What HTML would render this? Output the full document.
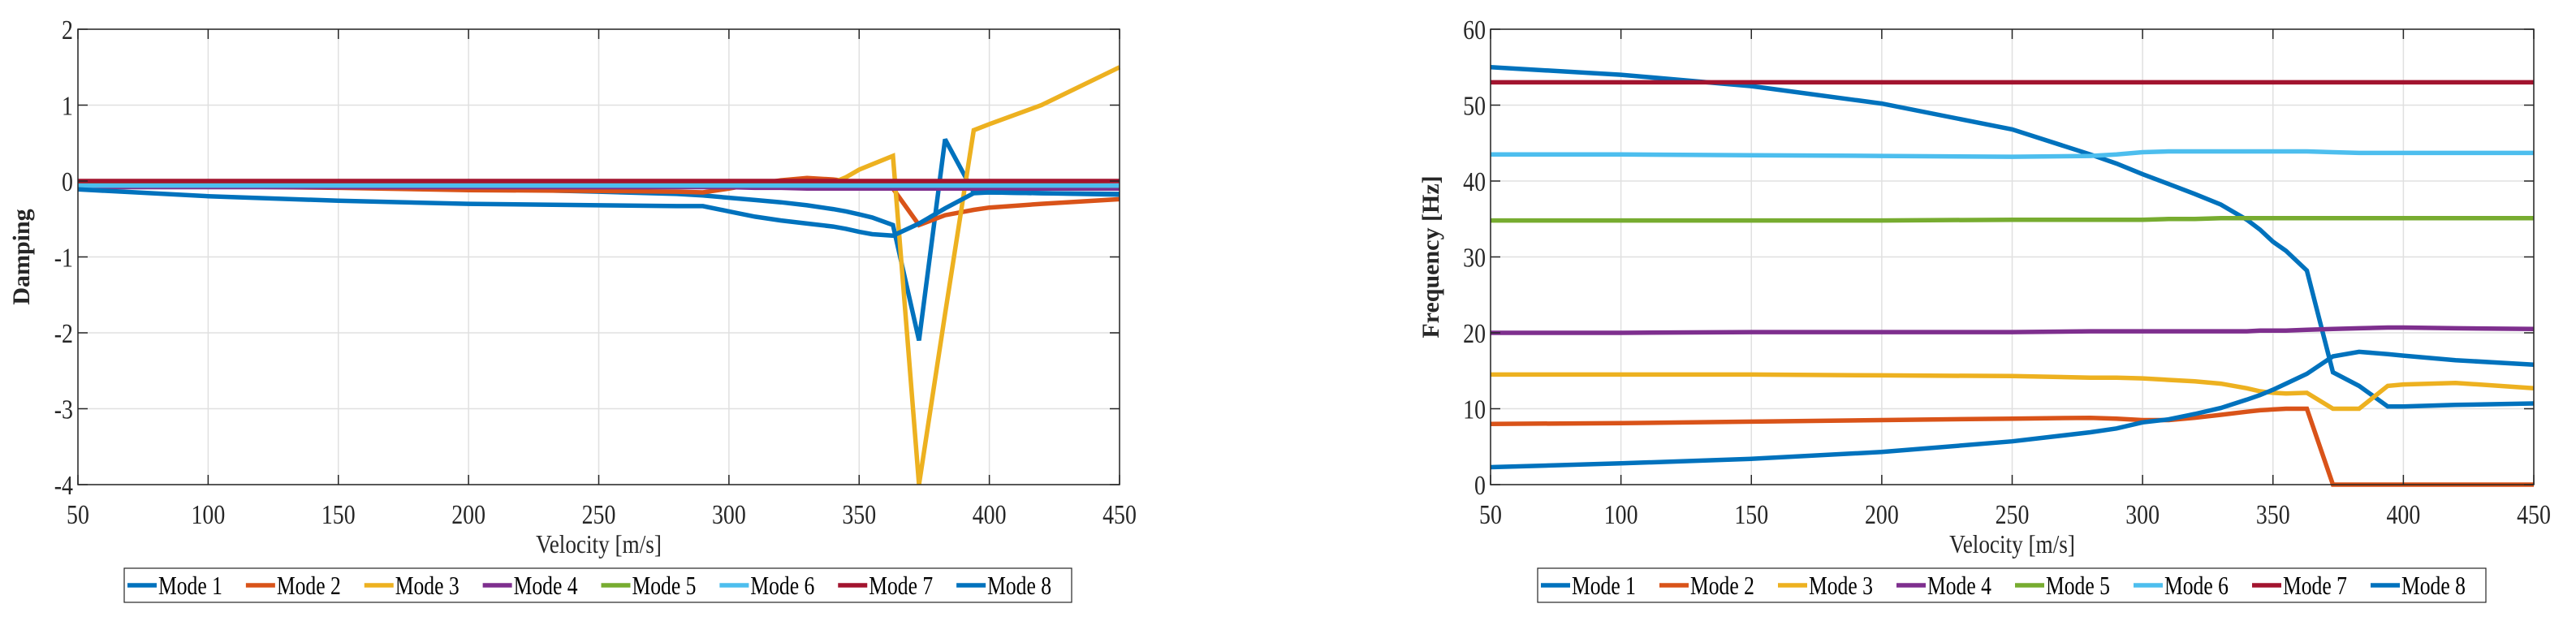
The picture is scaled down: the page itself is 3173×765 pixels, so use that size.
<!DOCTYPE html>
<html><head><meta charset="utf-8"><style>
html,body{margin:0;padding:0;background:#fff;}
svg{display:block;font-family:"Liberation Serif",serif;}
</style></head><body>
<svg id="fig" width="3173" height="765" viewBox="0 0 3173 765"></svg>
<script>
const velocity=[50,100,150,200,250,280,290,300,310,320,330,340,345,350,355,363,373,383,394,400,420,450];
const modeNames=["Mode 1","Mode 2","Mode 3","Mode 4","Mode 5","Mode 6","Mode 7","Mode 8"];
const xTicks=[50,100,150,200,250,300,350,400,450];
const dampTicks=[-4,-3,-2,-1,0,1,2];
const freqTicks=[0,10,20,30,40,50,60];
const d1=[-0.01,-0.04,-0.07,-0.1,-0.14,-0.17,-0.19,-0.22,-0.25,-0.28,-0.32,-0.37,-0.40,-0.44,-0.48,-0.58,-2.1,0.55,-0.15,-0.15,-0.16,-0.18];
const d2=[-0.04,-0.07,-0.09,-0.12,-0.13,-0.14,-0.15,-0.1,-0.04,0.01,0.04,0.02,0.0,-0.03,-0.06,-0.1,-0.58,-0.45,-0.38,-0.35,-0.3,-0.24];
const d3=[-0.05,-0.05,-0.05,-0.05,-0.05,-0.05,-0.05,-0.05,-0.05,-0.05,-0.05,-0.02,0.05,0.15,0.22,0.33,-4,-1.75,0.67,0.75,1.0,1.5];
const d4=[-0.08,-0.08,-0.08,-0.08,-0.08,-0.08,-0.08,-0.08,-0.09,-0.09,-0.1,-0.1,-0.1,-0.1,-0.1,-0.1,-0.1,-0.1,-0.1,-0.1,-0.1,-0.1];
const d5=[-0.05,-0.05,-0.05,-0.05,-0.05,-0.05,-0.05,-0.05,-0.05,-0.05,-0.05,-0.05,-0.05,-0.05,-0.05,-0.05,-0.05,-0.05,-0.05,-0.05,-0.05,-0.06];
const d6=[-0.06,-0.06,-0.06,-0.06,-0.06,-0.06,-0.06,-0.06,-0.06,-0.06,-0.06,-0.06,-0.06,-0.06,-0.06,-0.06,-0.06,-0.06,-0.06,-0.06,-0.06,-0.06];
const d7=[0,0,0,0,0,0,0,0,0,0,0,0,0,0,0,0,0,0,0,0,0,0];
const d8=[-0.11,-0.2,-0.26,-0.3,-0.32,-0.33,-0.33,-0.4,-0.47,-0.52,-0.56,-0.6,-0.63,-0.67,-0.7,-0.72,-0.56,-0.36,-0.16,-0.15,-0.16,-0.17];
const f1=[55,54,52.5,50.2,46.8,43.5,42.3,40.9,39.6,38.3,36.9,34.9,33.6,32.0,30.8,28.2,14.8,13,10.3,10.3,10.5,10.7];
const f2=[8.0,8.1,8.3,8.5,8.7,8.8,8.7,8.5,8.5,8.8,9.2,9.6,9.8,9.9,10,10,0,0,0,0,0,0];
const f3=[14.5,14.5,14.5,14.4,14.3,14.1,14.1,14.0,13.8,13.6,13.3,12.7,12.3,12.1,12.0,12.1,10,10,13.0,13.2,13.4,12.7];
const f4=[20,20,20.1,20.1,20.1,20.2,20.2,20.2,20.2,20.2,20.2,20.2,20.3,20.3,20.3,20.4,20.5,20.6,20.7,20.7,20.6,20.5];
const f5=[34.8,34.8,34.8,34.8,34.9,34.9,34.9,34.9,35.0,35.0,35.1,35.1,35.1,35.1,35.1,35.1,35.1,35.1,35.1,35.1,35.1,35.1];
const f6=[43.5,43.5,43.4,43.3,43.2,43.3,43.5,43.8,43.9,43.9,43.9,43.9,43.9,43.9,43.9,43.9,43.8,43.7,43.7,43.7,43.7,43.7];
const f7=[53,53,53,53,53,53,53,53,53,53,53,53,53,53,53,53,53,53,53,53,53,53];
const f8=[2.3,2.8,3.4,4.3,5.7,6.9,7.4,8.2,8.6,9.3,10.1,11.2,11.8,12.5,13.3,14.6,16.9,17.5,17.2,17.0,16.4,15.8];
const colors=["#0072BD","#D95319","#EDB120","#7E2F8E","#77AC30","#4DBEEE","#A2142F","#0072BD"];
const NS="http://www.w3.org/2000/svg";
const svg=document.getElementById('fig');
function mk(tag,attrs,parent){const e=document.createElementNS(NS,tag);for(const k in attrs)e.setAttribute(k,attrs[k]);(parent||svg).appendChild(e);return e;}

function panel(prefix,L,R,T,B,ymin,ymax,yTicks,series,ylabel,ylx,legL,legR){
  const g=mk('g',{});
  
  
  const sx=v=>L+(v-50)/(400)*(R-L);
  const sy=v=>B-(v-ymin)/(ymax-ymin)*(B-T);
  xTicks.forEach(t=>{const l=mk('line',{x1:sx(t),x2:sx(t),y1:T,y2:B,stroke:'#e0e0e0','stroke-width':1.5},g);
    });
  yTicks.forEach(t=>{const l=mk('line',{x1:L,x2:R,y1:sy(t),y2:sy(t),stroke:'#e0e0e0','stroke-width':1.5},g);
    });
  series.forEach((s,i)=>{
    const d=s.map((v,j)=>(j?'L':'M')+sx(velocity[j]).toFixed(1)+','+sy(v).toFixed(1)).join(' ');
    const p=mk('path',{d:d,fill:'none',stroke:colors[i],'stroke-width':5.5,'stroke-linejoin':'miter','stroke-miterlimit':3},g);
    
    
  });
  const box=mk('rect',{x:L,y:T,width:R-L,height:B-T,fill:'none',stroke:'#262626','stroke-width':1.5},g);
  
  xTicks.forEach(t=>{
    mk('line',{x1:sx(t),x2:sx(t),y1:B,y2:B-12,stroke:'#262626','stroke-width':1.5},g);
    mk('line',{x1:sx(t),x2:sx(t),y1:T,y2:T+12,stroke:'#262626','stroke-width':1.5},g);
    const tx=mk('text',{x:sx(t),y:645,'text-anchor':'middle','font-size':34,fill:'#262626',transform:`translate(${sx(t)},0) scale(0.82,1) translate(${-sx(t)},0)`},g);
    tx.textContent=t;
    
  });
  yTicks.forEach(t=>{
    mk('line',{x1:L,x2:L+12,y1:sy(t),y2:sy(t),stroke:'#262626','stroke-width':1.5},g);
    mk('line',{x1:R,x2:R-12,y1:sy(t),y2:sy(t),stroke:'#262626','stroke-width':1.5},g);
    const xx=L-6;
    const tx=mk('text',{x:xx,y:sy(t)+12,'text-anchor':'end','font-size':34,fill:'#262626',transform:`translate(${xx},0) scale(0.82,1) translate(${-xx},0)`},g);
    tx.textContent=t;
    
  });
  const xl=mk('text',{x:(L+R)/2,y:681,'text-anchor':'middle','font-size':32,fill:'#262626',transform:`translate(${(L+R)/2},0) scale(0.85,1) translate(${-(L+R)/2},0)`},g);
  xl.textContent='Velocity [m/s]';
  
  const cy=(T+B)/2;
  const yl=mk('text',{x:0,y:0,'text-anchor':'middle','font-size':30,'font-weight':'bold',fill:'#262626',transform:`translate(${ylx},${cy}) rotate(-90)`},g);
  yl.textContent=ylabel;
  
  // legend
  const lg=mk('g',{},g);
  
  mk('rect',{x:legL,y:700,width:legR-legL,height:42,fill:'#fff',stroke:'#262626','stroke-width':1.2},lg);
  const step=(legR-legL)/8;
  modeNames.forEach((n,i)=>{
    const x0=legL+4+i*step;
    const e=mk('g',{},lg);
    
    
    mk('line',{x1:x0,x2:x0+36,y1:721,y2:721,stroke:colors[i],'stroke-width':5.5},e);
    const tx=mk('text',{x:x0+38,y:732,'font-size':32,fill:'#000',transform:`translate(${x0+38},0) scale(0.8,1) translate(${-(x0+38)},0)`},e);
    tx.textContent=n;
  });
}
panel('damping',96,1379,36,597,-4,2,dampTicks,[d1,d2,d3,d4,d5,d6,d7,d8],'Damping',36,153,1320);
panel('frequency',1836,3121,36,597,0,60,freqTicks,[f1,f2,f3,f4,f5,f6,f7,f8],'Frequency [Hz]',1772,1894,3062);
</script>
</body></html>
